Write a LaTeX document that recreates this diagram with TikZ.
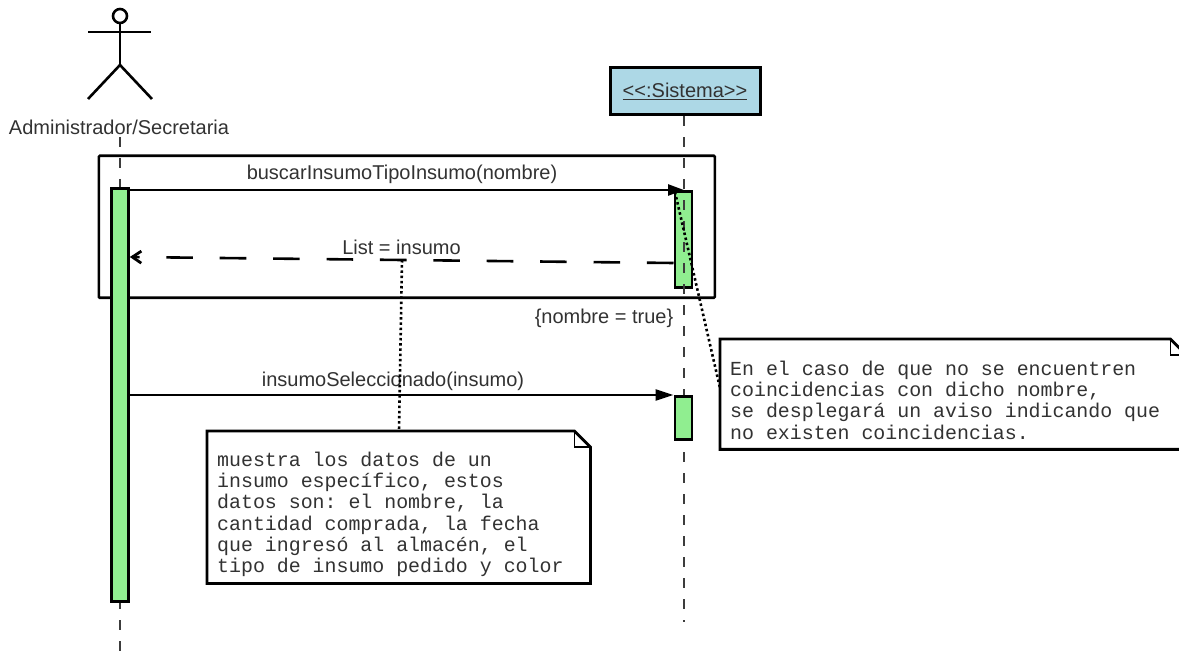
\documentclass[tikz,border=0pt]{standalone}
\usepackage{fontspec}
\setmainfont{Liberation Sans}
\setmonofont{Liberation Mono}
\usetikzlibrary{arrows.meta,calc,shapes.geometric}
\definecolor{actgreen}{RGB}{144,238,144}
\definecolor{sysblue}{RGB}{173,216,230}
\definecolor{txt}{RGB}{50,50,50}
\definecolor{lifegray}{RGB}{60,60,60}
\tikzset{
  box/.style={draw=black,line width=2.8pt,inner sep=0pt,anchor=north west},
  actbox/.style={box,fill=actgreen},
  label/.style={font=\fontsize{20}{22}\selectfont,text=txt,inner sep=0pt,anchor=center},
  lifeline/.style={draw=lifegray,line width=1.4pt,dash pattern=on 10pt off 11pt},
  msg/.style={draw=black,line width=2.6pt},
  anchorline/.style={draw=black,line width=2.6pt,dash pattern=on 2.5pt off 2.7pt},
  notetext/.style={font=\ttfamily\fontsize{19.9}{21.3}\selectfont,text=txt,align=left,inner sep=0pt,anchor=north west},
  actorline/.style={draw=black,line width=2.6pt}
}
\begin{document}
\begin{tikzpicture}[x=1pt,y=-1pt]
\useasboundingbox (0,0) rectangle (1179,660);
% actor
\node[circle,draw=black,line width=2.6pt,minimum size=14pt,inner sep=0pt] (head) at (120,16) {};
\coordinate (shoulderL) at (88,32);
\coordinate (shoulderR) at (151,32);
\coordinate (hip) at (120,65);
\coordinate (footL) at (88,99);
\coordinate (footR) at (152,99);
\draw[actorline] (shoulderL) -- (shoulderR);
\draw[actorline] (head.south) -- (hip);
\draw[actorline] (footL) -- (hip) -- (footR);
\node[label] (actor) at (119,127) {Administrador/Secretaria};
% system head
\node[box,fill=sysblue,minimum width=150pt,minimum height=47.5pt] (sis) at (609,66) {};
\node[label] (sisl) at (685,91) {\underline{<{}<:Sistema>{}>}};
% lifelines
\coordinate (actorEnd) at (120,660);
\coordinate (actorStart) at (120,137);
\coordinate (sisEnd) at (684,622);
\draw[lifeline] (actorStart) -- (actorEnd);
% frame
\node[draw=black,line width=2.6pt,inner sep=0pt,anchor=north west,minimum width=616pt,minimum height=142pt,rounded corners=1pt] (frame) at (97.5,154.5) {};
% activations
\node[actbox,minimum width=17pt,minimum height=413pt] (act1) at (110,187) {};
\node[actbox,minimum width=17pt,minimum height=96pt] (act2) at (673.5,190) {};
\draw[lifeline] (sis.south -| sisEnd) -- (sisEnd);
\node[actbox,minimum width=17pt,minimum height=43pt] (act3) at (673.5,395) {};
% messages
\coordinate (m1end) at (act2.north -| sisEnd);
\draw[msg,-{Triangle[length=16pt,width=11pt]}] ([yshift=-3pt]act1.north east) -- (m1end);
\node[label] (m1) at (402,174) {buscarInsumoTipoInsumo(nombre)};
\draw[msg,dash pattern=on 26.6pt off 26.8pt,-{Straight Barb[length=9pt,width=12pt,line width=2.8pt]}] ([yshift=-73pt]act2.north west) -- ([yshift=-70pt]act1.north east);
\node[label] (m2) at (401.5,247) {List = insumo};
\node[label] (cond) at (604,318) {\{nombre = true\}};
\draw[msg,-{Triangle[length=18pt,width=11pt]}] (act1.east |- act3.north) -- (act3.north west);
\node[label] (m3) at (393,381) {insumoSeleccionado(insumo)};
% note 1
\node[inner sep=0pt,anchor=north west,minimum width=383pt,minimum height=152pt] (n1) at (207,431) {};
\draw[box,fill=white] (n1.north west) -- ($(n1.north east)+(-16,0)$) -- ($(n1.north east)+(0,16)$) -- (n1.south east) -- (n1.south west) -- cycle;
\draw[draw=black,line width=1.5pt] ($(n1.north east)+(-16,0)$) -- ($(n1.north east)+(-16,16)$) -- ($(n1.north east)+(0,16)$);
\node[notetext] (n1t) at (217,451.5) {muestra los datos de un\\insumo específico, estos\\datos son: el nombre, la\\cantidad comprada, la fecha\\que ingresó al almacén, el\\tipo de insumo pedido y color};
% note 2
\node[inner sep=0pt,anchor=north west,minimum width=470pt,minimum height=110pt] (n2) at (720,339) {};
\draw[box,fill=white] (n2.north west) -- ($(n2.north east)+(-20,0)$) -- ($(n2.north east)+(-4,16)$) -- ($(n2.south east)+(-4,0)$) -- (n2.south west) -- cycle;
\draw[draw=black,line width=1.5pt] ($(n2.north east)+(-20,0)$) -- ($(n2.north east)+(-20,16)$) -- ($(n2.north east)+(-4,16)$);
\node[notetext] (n2t) at (730,360.5) {En el caso de que no se encuentren\\coincidencias con dicho nombre,\\se desplegará un aviso indicando que\\no existen coincidencias.};
% note links
\coordinate (l1top) at (402,260);
\coordinate (l2top) at (675,192);
\draw[anchorline] (l1top) -- ($(n1.north west)+(192,0)$);
\draw[anchorline] (l2top) -- ($(n2.north west)+(0,49)$);
\end{tikzpicture}
\end{document}
